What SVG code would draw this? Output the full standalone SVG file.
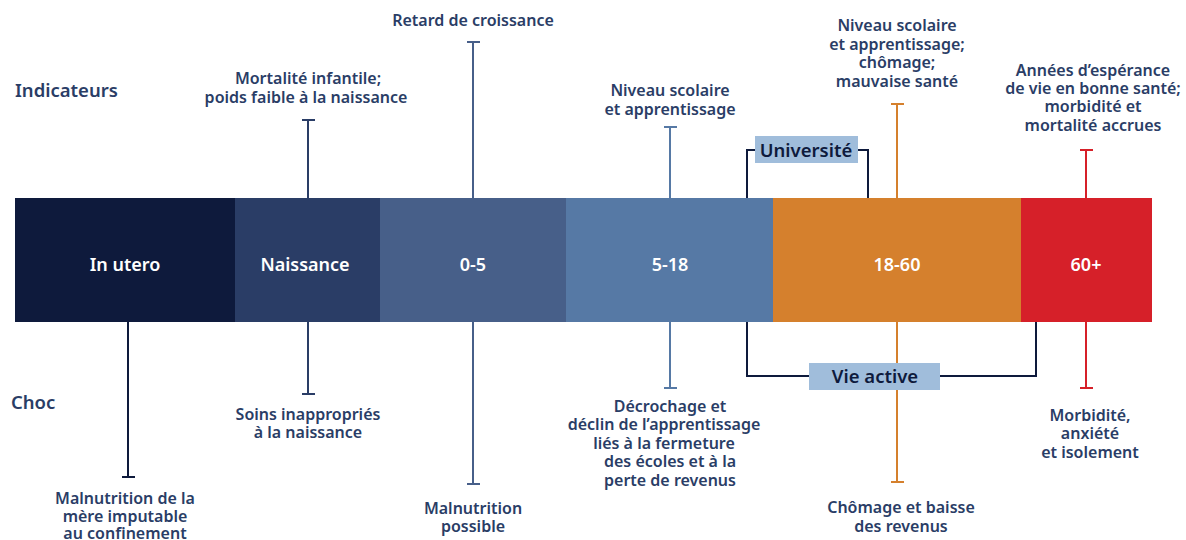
<svg xmlns="http://www.w3.org/2000/svg" width="1186" height="540" viewBox="0 0 1186 540">
<style>
text{font-family:"Noto Sans","Liberation Sans",sans-serif;font-weight:600;}
.lbl{font-size:16px;fill:#2a3d66;text-anchor:middle;}
.side{font-size:18.5px;fill:#2a3d66;}
.bar{font-size:18px;fill:#ffffff;text-anchor:middle;}
.box{font-size:18.5px;fill:#0e1a3c;text-anchor:middle;}
.ln{stroke-width:2;fill:none;}
.br{stroke:#0e1a3c;stroke-width:2;fill:none;}
</style>
<rect width="1186" height="540" fill="#ffffff"/>
<text class="side" x="15" y="97">Indicateurs</text>
<text class="side" x="11" y="409">Choc</text>
<g id="connectors">
<path class="br" d="M747,198V150H756M857,150H868V198"/>
<path class="br" d="M747,322V376H810M940,376H1036V322"/>
<path class="ln" stroke="#2a3d66" d="M308,198V120M302,120H315"/>
<path class="ln" stroke="#475f89" d="M473,198V42M467,42H480"/>
<path class="ln" stroke="#5679a5" d="M670,198V127M664,127H677"/>
<path class="ln" stroke="#d5802d" d="M897,198V104M891,104H904"/>
<path class="ln" stroke="#d62029" d="M1086,198V150M1080,150H1093"/>
<path class="ln" stroke="#0e1a3c" d="M128,322V477M122,477H135"/>
<path class="ln" stroke="#2a3d66" d="M308,322V394M302,394H315"/>
<path class="ln" stroke="#475f89" d="M473,322V484M467,484H480"/>
<path class="ln" stroke="#5679a5" d="M670,322V388M664,388H677"/>
<path class="ln" stroke="#d5802d" d="M897,322V482M891,482H904"/>
<path class="ln" stroke="#d62029" d="M1086,322V388M1080,388H1093"/>
</g>
<g id="inutero"><rect x="15" y="198" width="220" height="124" fill="#0e1a3c"/><text class="bar" x="125" y="271">In utero</text></g>
<g id="naissance"><rect x="235" y="198" width="145" height="124" fill="#2a3d66"/><text class="bar" x="305" y="271">Naissance</text></g>
<g id="age0-5"><rect x="380" y="198" width="186" height="124" fill="#475f89"/><text class="bar" x="473" y="271">0-5</text></g>
<g id="age5-18"><rect x="566" y="198" width="207" height="124" fill="#5679a5"/><text class="bar" x="670" y="271">5-18</text></g>
<g id="age18-60"><rect x="773" y="198" width="248" height="124" fill="#d5802d"/><text class="bar" x="897" y="271">18-60</text></g>
<g id="age60"><rect x="1021" y="198" width="131" height="124" fill="#d62029"/><text class="bar" x="1086" y="271">60+</text></g>
<g id="universite"><rect x="755" y="136" width="103" height="27" fill="#a0bddb"/><text class="box" x="806" y="157">Université</text></g>
<g id="vieactive"><rect x="809" y="363" width="131" height="27" fill="#a0bddb"/><text class="box" x="875" y="383">Vie active</text></g>
<g id="ind-retard"><text class="lbl" x="473" y="26">Retard de croissance</text></g>
<g id="ind-mortalite"><text class="lbl" x="308" y="84">Mortalité infantile;</text><text class="lbl" x="306" y="103">poids faible à la naissance</text></g>
<g id="ind-niveau"><text class="lbl" x="670" y="96">Niveau scolaire</text><text class="lbl" x="670" y="115">et apprentissage</text></g>
<g id="ind-niveau2"><text class="lbl" x="897" y="31">Niveau scolaire</text><text class="lbl" x="897" y="50">et apprentissage;</text><text class="lbl" x="897" y="68">chômage;</text><text class="lbl" x="897" y="87">mauvaise santé</text></g>
<g id="ind-annees"><text class="lbl" x="1093" y="76">Années d’espérance</text><text class="lbl" x="1093" y="94">de vie en bonne santé;</text><text class="lbl" x="1093" y="112">morbidité et</text><text class="lbl" x="1093" y="131">mortalité accrues</text></g>
<g id="choc-malmere"><text class="lbl" x="125" y="504">Malnutrition de la</text><text class="lbl" x="125" y="522">mère imputable</text><text class="lbl" x="125" y="539">au confinement</text></g>
<g id="choc-soins"><text class="lbl" x="308" y="420">Soins inappropriés</text><text class="lbl" x="308" y="438">à la naissance</text></g>
<g id="choc-malpossible"><text class="lbl" x="473" y="514">Malnutrition</text><text class="lbl" x="473" y="532">possible</text></g>
<g id="choc-decrochage"><text class="lbl" x="670" y="412">Décrochage et</text><text class="lbl" x="664" y="430">déclin de l’apprentissage</text><text class="lbl" x="664" y="449">liés à la fermeture</text><text class="lbl" x="670" y="467">des écoles et à la</text><text class="lbl" x="670" y="486">perte de revenus</text></g>
<g id="choc-chomage"><text class="lbl" x="901" y="513">Chômage et baisse</text><text class="lbl" x="901" y="532">des revenus</text></g>
<g id="choc-morbidite"><text class="lbl" x="1090" y="421">Morbidité,</text><text class="lbl" x="1090" y="439">anxiété</text><text class="lbl" x="1090" y="458">et isolement</text></g>
</svg>
